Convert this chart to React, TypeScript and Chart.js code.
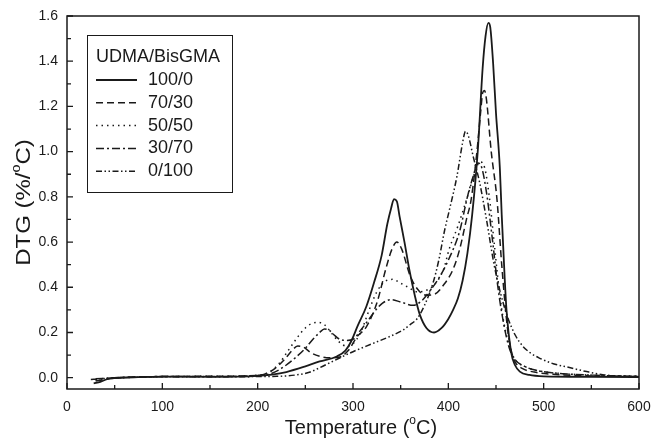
import React, { useEffect, useRef } from "react";
import { Chart, registerables } from "chart.js";
Chart.register(...registerables);

const seriesLabels = ["100/0", "70/30", "50/50", "30/70", "0/100"];
const legendTitle = "UDMA/BisGMA";
const xTickValues = [0, 100, 200, 300, 400, 500, 600];
const yTickValues = [0, 0.2, 0.4, 0.6, 0.8, 1.0, 1.2, 1.4, 1.6];

const temp100_0 = [28, 35, 45, 60, 100, 150, 200, 215, 230, 250, 265, 283, 292, 298, 305, 314, 322, 330, 336, 340, 343, 346, 349, 354, 359, 365, 370, 377, 385, 393, 400, 405, 410, 415, 420, 425, 431, 436, 439, 442, 444, 447, 450, 454, 456, 459, 461, 466, 470, 475, 485, 500, 550, 600];
const dtg100_0 = [-0.025, -0.018, -0.003, 0.0, 0.005, 0.004, 0.008, 0.014, 0.025, 0.05, 0.072, 0.094, 0.12, 0.16, 0.23, 0.315, 0.42, 0.54, 0.68, 0.75, 0.79, 0.78, 0.71, 0.6, 0.48, 0.36, 0.28, 0.22, 0.2, 0.22, 0.26, 0.3, 0.35, 0.43, 0.55, 0.72, 1.01, 1.37, 1.51, 1.57, 1.55, 1.39, 1.17, 0.93, 0.72, 0.45, 0.3, 0.11, 0.055, 0.027, 0.012, 0.006, 0.004, 0.003];

const temp70_30 = [30, 40, 55, 100, 150, 200, 210, 218, 228, 236, 242, 248, 256, 265, 275, 285, 295, 304, 314, 325, 335, 341, 346, 351, 360, 370, 378, 386, 395, 405, 412, 419, 424, 430, 434, 436, 438, 440, 445, 451, 456, 462, 466, 470, 478, 490, 510, 550, 600];
const dtg70_30 = [-0.015, -0.008, 0.0, 0.005, 0.006, 0.01, 0.02, 0.04, 0.08, 0.12, 0.14, 0.135, 0.11, 0.095, 0.088, 0.09, 0.12, 0.18, 0.225, 0.33, 0.49, 0.57, 0.6, 0.57, 0.45, 0.38, 0.365, 0.37, 0.41, 0.48, 0.57, 0.7, 0.79, 1.0, 1.18, 1.26, 1.27, 1.23, 1.0, 0.79, 0.5, 0.22, 0.12, 0.07, 0.04, 0.025, 0.015, 0.008, 0.005];

const temp50_50 = [30, 45, 60, 100, 150, 200, 212, 222, 232, 242, 250, 257, 263, 270, 277, 285, 293, 300, 308, 317, 325, 335, 342, 349, 358, 367, 376, 385, 395, 401, 410, 420, 428, 433, 438, 443, 448, 453, 458, 464, 470, 480, 495, 520, 560, 600];
const dtg50_50 = [-0.01, -0.002, 0.0, 0.005, 0.006, 0.01, 0.025, 0.06, 0.12, 0.18, 0.22, 0.24, 0.245, 0.235, 0.2, 0.16, 0.14, 0.15, 0.2, 0.3, 0.38, 0.43, 0.435, 0.42, 0.4, 0.38, 0.385, 0.41, 0.48, 0.57, 0.67, 0.8, 0.91, 0.955, 0.93, 0.8, 0.6, 0.4, 0.25, 0.14, 0.08, 0.05, 0.03, 0.018, 0.01, 0.006];

const temp30_70 = [30, 50, 100, 150, 200, 215, 228, 240, 250, 258, 265, 270, 275, 280, 286, 293, 300, 308, 317, 324, 331, 340, 350, 363, 372, 380, 390, 400, 412, 420, 426, 431, 435, 440, 446, 452, 458, 464, 470, 480, 495, 520, 560, 600];
const dtg30_70 = [-0.005, 0.0, 0.005, 0.005, 0.01, 0.02, 0.05, 0.09, 0.13, 0.17, 0.2, 0.215, 0.21, 0.19, 0.17, 0.165, 0.17, 0.21, 0.26, 0.3, 0.33, 0.345, 0.335, 0.32, 0.34, 0.38, 0.44, 0.52, 0.65, 0.8, 0.89, 0.95, 0.93, 0.82, 0.62, 0.4, 0.24, 0.13, 0.08, 0.05, 0.03, 0.018, 0.01, 0.006];

const temp0_100 = [25, 40, 55, 100, 150, 200, 220, 240, 255, 265, 280, 300, 320, 340, 352, 360, 367, 375, 384, 390, 396, 401, 409, 415, 418, 421, 426, 433, 440, 448, 455, 462, 470, 478, 486, 495, 510, 527, 545, 562, 580, 600];
const dtg0_100 = [-0.008, -0.004, 0.0, 0.004, 0.004, 0.005, 0.006, 0.012, 0.025, 0.044, 0.075, 0.115, 0.15, 0.185, 0.21, 0.235, 0.26, 0.32, 0.42, 0.52, 0.65, 0.74, 0.89, 1.04, 1.09, 1.07, 0.98, 0.86, 0.7, 0.5, 0.37, 0.27, 0.19, 0.14, 0.11, 0.088, 0.062, 0.045, 0.027, 0.013, 0.007, 0.005];

const seriesTemps = [temp100_0, temp70_30, temp50_50, temp30_70, temp0_100];
const seriesDtg = [dtg100_0, dtg70_30, dtg50_50, dtg30_70, dtg0_100];
const seriesDash = [[], [7, 4], [1.5, 4], [8, 3, 2, 3], [6, 2.5, 1.5, 2.5, 1.5, 2.5]];
const seriesWidth = [1.8, 1.5, 1.5, 1.5, 1.5];

const INK = "#1a1a1a";
const FONT = "'Liberation Sans', Arial, Helvetica, sans-serif";

function drawSupText(ctx: CanvasRenderingContext2D, parts: [string, boolean][], size: number) {
  let w = 0;
  for (const [t, sup] of parts) {
    ctx.font = `${sup ? Math.round(size * 0.6) : size}px ${FONT}`;
    w += ctx.measureText(t).width;
  }
  let x = -w / 2;
  for (const [t, sup] of parts) {
    ctx.font = `${sup ? Math.round(size * 0.6) : size}px ${FONT}`;
    ctx.fillText(t, x, sup ? -size * 0.35 : 0);
    x += ctx.measureText(t).width;
  }
}

const decorPlugin = {
  id: "decor",
  afterDraw(chart: any) {
    const { ctx, chartArea: a, scales } = chart;
    const xs = scales.x;
    const ys = scales.y;
    ctx.save();
    ctx.strokeStyle = INK;
    ctx.fillStyle = INK;
    ctx.setLineDash([]);
    ctx.lineWidth = 1.5;
    ctx.strokeRect(a.left, a.top, a.right - a.left, a.bottom - a.top);

    ctx.beginPath();
    ctx.lineWidth = 1.3;
    xTickValues.forEach((v, i) => {
      const px = xs.getPixelForValue(v);
      ctx.moveTo(px, a.bottom);
      ctx.lineTo(px, a.bottom - 6);
      if (i < xTickValues.length - 1) {
        const m = xs.getPixelForValue((v + xTickValues[i + 1]) / 2);
        ctx.moveTo(m, a.bottom);
        ctx.lineTo(m, a.bottom - 4);
      }
    });
    yTickValues.forEach((v, i) => {
      const py = ys.getPixelForValue(v);
      ctx.moveTo(a.left, py);
      ctx.lineTo(a.left + 6, py);
      if (i < yTickValues.length - 1) {
        const m = ys.getPixelForValue((v + yTickValues[i + 1]) / 2);
        ctx.moveTo(a.left, m);
        ctx.lineTo(a.left + 4, m);
      }
    });
    ctx.stroke();

    // legend
    const lx = a.left + 20;
    const ly = a.top + 19;
    ctx.lineWidth = 1;
    ctx.strokeRect(lx + 0.5, ly + 0.5, 145, 157);
    ctx.font = `18px ${FONT}`;
    ctx.textBaseline = "middle";
    ctx.textAlign = "left";
    ctx.fillText(legendTitle, lx + 9, ly + 22);
    seriesLabels.forEach((lab, i) => {
      const y = ly + 45 + i * 22.8;
      ctx.beginPath();
      ctx.setLineDash(seriesDash[i]);
      ctx.lineWidth = seriesWidth[i];
      ctx.moveTo(lx + 9, y);
      ctx.lineTo(lx + 50, y);
      ctx.stroke();
      ctx.setLineDash([]);
      ctx.fillText(lab, lx + 61, y);
    });

    // axis titles
    ctx.textAlign = "left";
    ctx.textBaseline = "middle";
    ctx.save();
    ctx.translate(361, 428);
    drawSupText(ctx, [["Temperature (", false], ["o", true], ["C)", false]], 20);
    ctx.restore();
    ctx.save();
    ctx.translate(24, (a.top + a.bottom) / 2);
    ctx.rotate(-Math.PI / 2);
    ctx.scale(1.2, 1);
    drawSupText(ctx, [["DTG (%/", false], ["o", true], ["C)", false]], 20);
    ctx.restore();
    ctx.restore();
  },
};

export default function App() {
  const ref = useRef<HTMLCanvasElement | null>(null);
  useEffect(() => {
    if (!ref.current) return;
    const datasets = seriesLabels.map((lab, i) => ({
      label: lab,
      data: seriesTemps[i].map((t, j) => ({ x: t, y: seriesDtg[i][j] })),
      borderColor: INK,
      borderWidth: seriesWidth[i],
      borderDash: seriesDash[i],
      pointRadius: 0,
      fill: false,
      cubicInterpolationMode: "monotone" as const,
    }));
    const chart = new Chart(ref.current, {
      type: "line",
      data: { datasets },
      options: {
        animation: false,
        responsive: false,
        layout: { padding: { top: 16, right: 12, left: 0, bottom: 0 } },
        plugins: { legend: { display: false }, tooltip: { enabled: false } },
        scales: {
          x: {
            type: "linear",
            min: 0,
            max: 600,
            afterBuildTicks: (s: any) => {
              s.ticks = xTickValues.map((v) => ({ value: v }));
            },
            afterFit: (s: any) => {
              s.height = 49;
              s.paddingLeft = 0;
              s.paddingRight = 0;
            },
            grid: { display: false, drawTicks: false },
            border: { display: false },
            ticks: {
              padding: 10,
              color: INK,
              font: { size: 14, family: FONT },
              maxRotation: 0,
              callback: (v: any) => String(v),
            },
          },
          y: {
            type: "linear",
            min: -0.05,
            max: 1.6,
            afterBuildTicks: (s: any) => {
              s.ticks = yTickValues.map((v) => ({ value: v }));
            },
            afterFit: (s: any) => {
              s.width = 67;
              s.paddingTop = 0;
              s.paddingBottom = 0;
            },
            grid: { display: false, drawTicks: false },
            border: { display: false },
            ticks: {
              padding: 9,
              color: INK,
              font: { size: 14, family: FONT },
              callback: (v: any) => Number(v).toFixed(1),
            },
          },
        },
      },
      plugins: [decorPlugin],
    });
    return () => chart.destroy();
  }, []);
  return (
    <div style={{ position: "absolute", left: 0, top: 0, width: 651, height: 438, background: "#fff" }}>
      <canvas ref={ref} width={651} height={438} />
    </div>
  );
}
